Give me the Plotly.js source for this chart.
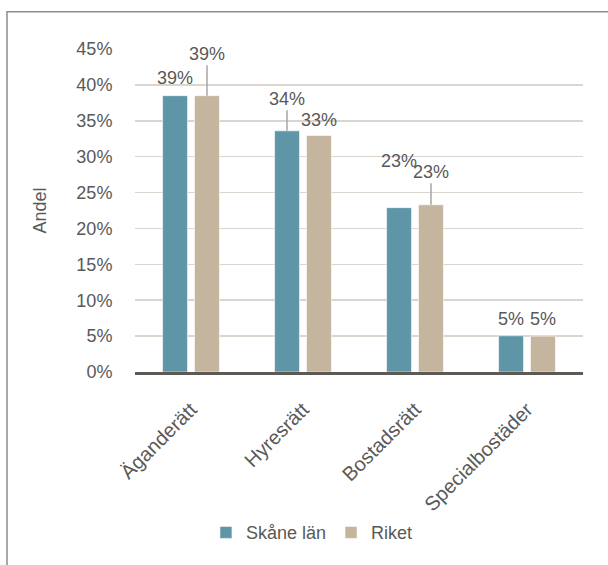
<!DOCTYPE html>
<html>
<head>
<meta charset="utf-8">
<script src="https://cdn.plot.ly/plotly-3.0.1.min.js"></script>
<style>
  html, body { margin: 0; padding: 0; background: #ffffff; }
  #chart { width: 608px; height: 565px; }
</style>
</head>
<body>
<div id="chart"></div>
<script>
// ---- data ----
const categories = ['Äganderätt', 'Hyresrätt', 'Bostadsrätt', 'Specialbostäder'];
const seriesNames = ['Skåne län', 'Riket'];
const skaneValues = [0.385, 0.336, 0.229, 0.0505];
const riketValues = [0.385, 0.3295, 0.233, 0.050];
const yTickValues = [0, 0.05, 0.10, 0.15, 0.20, 0.25, 0.30, 0.35, 0.40, 0.45];
const yTickLabels = ['0%', '5%', '10%', '15%', '20%', '25%', '30%', '35%', '40%', '45%'];
const yAxisTitle = 'Andel';

// ---- styling ----
const colors = ['#5f96a7', '#c5b59e'];
const textColor = '#595959';
const fontFamily = '"Liberation Sans", Arial, sans-serif';
// label placement (pixels above bar top) and whether a leader line is drawn
const labelLift = [[18, 32, 47, 17], [42, 15, 33, 17]];
const labelLeader = [[false, true, false, false], [true, false, true, false]];
const seriesShift = [-16, 16];

const allValues = [skaneValues, riketValues];

const traces = allValues.map((vals, s) => ({
  type: 'bar',
  name: seriesNames[s],
  x: categories,
  y: vals,
  marker: { color: colors[s], line: { color: 'rgba(255,255,255,0.55)', width: 1 } },
  hoverinfo: 'skip'
}));

const annotations = [];
allValues.forEach((vals, s) => {
  vals.forEach((v, i) => {
    const txt = Math.round(v * 100) + '%';
    const base = {
      x: categories[i], y: v, xref: 'x', yref: 'y',
      text: txt, xshift: seriesShift[s],
      font: { family: fontFamily, size: 18, color: textColor }
    };
    if (labelLeader[s][i]) {
      annotations.push(Object.assign(base, {
        showarrow: true, arrowhead: 0, arrowwidth: 1.5, arrowcolor: '#a6a6a6',
        ax: 0, ay: -labelLift[s][i], standoff: 0, startstandoff: 0
      }));
    } else {
      annotations.push(Object.assign(base, {
        showarrow: false, yanchor: 'middle', xanchor: 'center', yshift: labelLift[s][i]
      }));
    }
  });
});

const layout = {
  width: 608,
  height: 565,
  margin: { l: 135, r: 25, t: 49, b: 193, pad: 0 },
  paper_bgcolor: '#ffffff',
  plot_bgcolor: '#ffffff',
  font: { family: fontFamily, size: 18, color: textColor },
  barmode: 'group',
  bargap: 0.43,
  bargroupgap: 0.22,
  showlegend: true,
  legend: {
    orientation: 'h', x: 0.395, xanchor: 'center', y: -0.4975, yanchor: 'middle',
    font: { family: fontFamily, size: 18, color: textColor },
    itemwidth: 30, traceorder: 'normal'
  },
  xaxis: {
    type: 'category',
    tickangle: -45,
    ticks: 'outside', ticklen: 15, tickcolor: 'rgba(0,0,0,0)',
    showline: true, linecolor: '#5e5954', linewidth: 3,
    showgrid: false, zeroline: false,
    tickfont: { family: fontFamily, size: 20, color: textColor },
    fixedrange: true
  },
  yaxis: {
    range: [0, 0.45],
    tickvals: yTickValues,
    ticktext: yTickLabels,
    ticks: 'outside', ticklen: 18, tickcolor: 'rgba(0,0,0,0)',
    showgrid: true, gridcolor: '#d9d5cf', gridwidth: 1.5,
    zeroline: false, showline: false,
    tickfont: { family: fontFamily, size: 18, color: textColor },
    title: { text: yAxisTitle, font: { family: fontFamily, size: 18, color: textColor }, standoff: 25 },
    fixedrange: true
  },
  shapes: [{
    type: 'rect', xref: 'paper', yref: 'paper',
    x0: (7 - 135) / 448, x1: (620 - 135) / 448,
    y0: (372.3 - 12) / 323, y1: (372.3 - 580) / 323,
    line: { color: '#8c8c8c', width: 1.5 }, fillcolor: 'rgba(0,0,0,0)', layer: 'below'
  }],
  annotations: annotations
};

Plotly.newPlot('chart', traces, layout, { staticPlot: true, displayModeBar: false });
</script>
</body>
</html>
